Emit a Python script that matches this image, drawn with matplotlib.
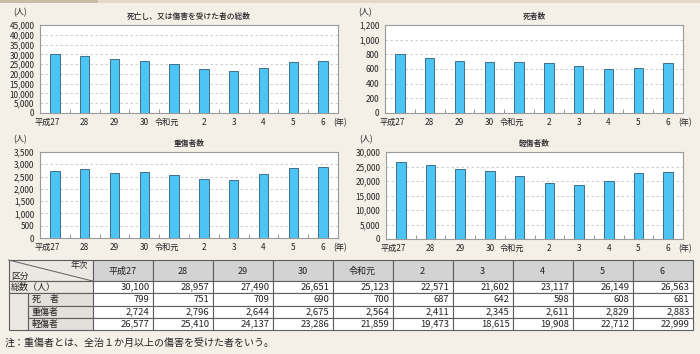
import numpy as np
import matplotlib
matplotlib.use("Agg")
import matplotlib.pyplot as plt
from matplotlib.patches import Rectangle
from matplotlib.transforms import blended_transform_factory

plt.rcParams['font.family'] = ['Noto Sans CJK JP', 'DejaVu Sans']

# ---- data ----
years = ["平成27", "28", "29", "30", "令和元", "2", "3", "4", "5", "6"]
total = [30100, 28957, 27490, 26651, 25123, 22571, 21602, 23117, 26149, 26563]
deaths = [799, 751, 709, 690, 700, 687, 642, 598, 608, 681]
serious = [2724, 2796, 2644, 2675, 2564, 2411, 2345, 2611, 2829, 2883]
minor = [26577, 25410, 24137, 23286, 21859, 19473, 18615, 19908, 22712, 22999]

titles = ["死亡し、又は傷害を受けた者の総数", "死者数", "重傷者数", "軽傷者数"]
ymax = [45000, 1200, 3500, 30000]
ystep = [5000, 200, 500, 5000]
row_labels = ["総数（人）", "死　者", "重傷者", "軽傷者"]
footnote = "注：重傷者とは、全治１か月以上の傷害を受けた者をいう。"

W, H = 700, 354
BG = "#f4efe7"
BAR = "#4cc4f4"
BAR_EDGE = "#3d6f8a"

fig = plt.figure(figsize=(W / 100, H / 100), dpi=100, facecolor=BG)

# overlay axes in pixel coordinates (for table, decorations)
ov = fig.add_axes([0, 0, 1, 1], zorder=0)
ov.set_xlim(0, W)
ov.set_ylim(H, 0)
ov.axis("off")
ov.patch.set_alpha(0)

# top strip
ov.add_patch(Rectangle((0, 0), 98, 3, facecolor="#c9bba6", edgecolor="none"))
ov.add_patch(Rectangle((98, 0), W - 98, 3, facecolor="#e2d9cc", edgecolor="none"))


def px_axes(left, top, right, bottom):
    return fig.add_axes([left / W, (H - bottom) / H, (right - left) / W, (bottom - top) / H], zorder=2)


boxes = [(40, 25, 338, 113), (385, 25, 683, 113), (40, 152, 338, 238), (386, 152, 683, 239)]
series = [total, deaths, serious, minor]
x = np.arange(len(years))

for k, (box, vals) in enumerate(zip(boxes, series)):
    ax = px_axes(*box)
    ax.set_facecolor("white")
    ax.bar(x, vals, width=0.32, color=BAR, edgecolor=BAR_EDGE, linewidth=0.7, zorder=3)
    ax.set_xlim(-0.5, 9.5)
    ax.set_ylim(0, ymax[k])
    yt = np.arange(0, ymax[k] + 1, ystep[k])
    ax.set_yticks(yt)
    ax.set_yticklabels([f"{v:,}" for v in yt], fontsize=5.9, color="#222222")
    for v in yt[1:-1]:
        ax.axhline(v, color="#c4c4c4", lw=0.6, ls=(0, (3, 3)), zorder=1)
    ax.set_xticks([])
    ax.set_xticks(np.arange(0.5, 9, 1), minor=True)
    ax.tick_params(axis="x", which="minor", direction="in", length=3, color="#888888", width=0.6)
    ax.tick_params(axis="y", length=0, pad=4)
    for s in ax.spines.values():
        s.set_color("#9a9a9a")
        s.set_linewidth(0.8)
    tr = blended_transform_factory(ax.transData, ax.transAxes)
    for i, lab in enumerate(years):
        if lab in ("平成27", "令和元"):
            ax.text(i + 0.16, -0.055, lab, transform=tr, ha="right", va="top", fontsize=5.9, color="#222222")
        else:
            ax.text(i, -0.055, lab, transform=tr, ha="center", va="top", fontsize=5.9, color="#222222")
    ax.text(9.33, -0.055, "(年)", transform=tr, ha="left", va="top", fontsize=5.9, color="#222222")
    # title and unit
    cx = (box[0] + box[2]) / 2
    ov.text(cx, box[1] - 9, titles[k], ha="center", va="center", fontsize=5.6, color="#222222",
            fontweight="medium")
    ov.text(box[0] - 20, box[1] - 12, "(人)", ha="center", va="center", fontsize=5.9, color="#222222")

# ---- table ----
tleft, ttop = 8.5, 260
label_w, col_w = 84, 60
row_edges = [260, 281, 293, 305.5, 318, 330]
EDGE = "#5e5e5e"
HEAD = "#d3d3d3"
LAB = "#ebe7e1"
SUB = "#e3dfd9"

# header cells
ov.add_patch(Rectangle((tleft, row_edges[0]), label_w, row_edges[1] - row_edges[0],
                       facecolor=LAB, edgecolor=EDGE, lw=0.8))
ov.plot([tleft, tleft + label_w], [row_edges[0], row_edges[1]], color=EDGE, lw=0.7)
ov.text(tleft + label_w - 4, row_edges[0] + 5.5, "年次", ha="right", va="center", fontsize=6.3, color="#222")
ov.text(tleft + 3, row_edges[1] - 5, "区分", ha="left", va="center", fontsize=6.3, color="#222")
for j, lab in enumerate(years):
    x0 = tleft + label_w + j * col_w
    ov.add_patch(Rectangle((x0, row_edges[0]), col_w, row_edges[1] - row_edges[0],
                           facecolor=HEAD, edgecolor=EDGE, lw=0.8))
    ov.text(x0 + col_w / 2, (row_edges[0] + row_edges[1]) / 2 + 0.5, lab, ha="center", va="center",
            fontsize=6.5, color="#222")

# label column
ov.add_patch(Rectangle((tleft, row_edges[1]), label_w, row_edges[2] - row_edges[1],
                       facecolor=LAB, edgecolor=EDGE, lw=0.8))
ov.add_patch(Rectangle((tleft, row_edges[2]), 19.5, row_edges[5] - row_edges[2],
                       facecolor=LAB, edgecolor=EDGE, lw=0.8))
sub_x = tleft + 19.5
for r in range(4):
    y0, y1 = row_edges[r + 1], row_edges[r + 2]
    if r == 0:
        ov.text(tleft + 2.5, (y0 + y1) / 2 + 0.3, row_labels[r], ha="left", va="center", fontsize=6.5, color="#222")
    else:
        ov.add_patch(Rectangle((sub_x, y0), label_w - 19.5, y1 - y0, facecolor=SUB, edgecolor=EDGE, lw=0.8))
        ov.text(sub_x + 4, (y0 + y1) / 2 + 0.3, row_labels[r], ha="left", va="center", fontsize=6.5, color="#222")

table_rows = [total, deaths, serious, minor]
for r, vals in enumerate(table_rows):
    y0, y1 = row_edges[r + 1], row_edges[r + 2]
    for j, v in enumerate(vals):
        x0 = tleft + label_w + j * col_w
        ov.add_patch(Rectangle((x0, y0), col_w, y1 - y0, facecolor="white", edgecolor=EDGE, lw=0.8))
        ov.text(x0 + col_w - 3, (y0 + y1) / 2 + 0.3, f"{v:,}", ha="right", va="center", fontsize=6.8, color="#222")

ov.text(5, 343, footnote, ha="left", va="center", fontsize=7.2, color="#222")

fig.savefig("out.png", dpi=100, facecolor=BG)
